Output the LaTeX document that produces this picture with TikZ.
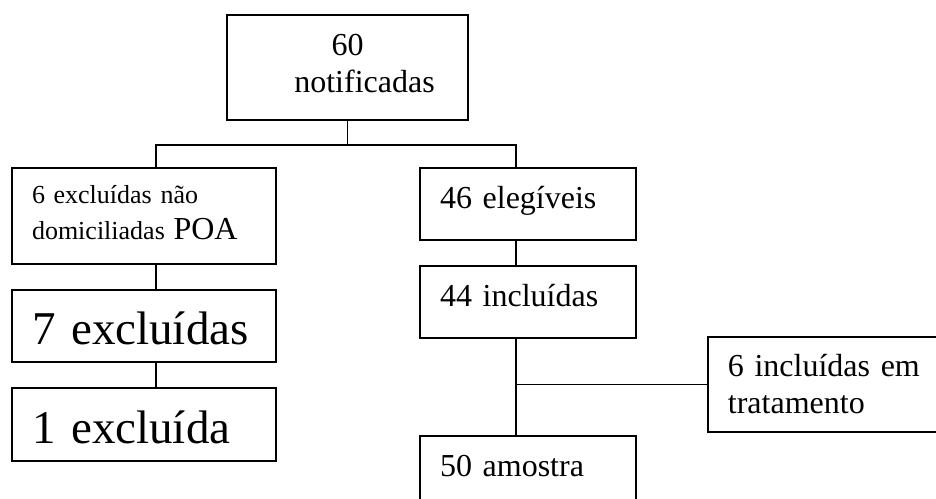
\documentclass[tikz,border=0pt]{standalone}
\usepackage{fontspec}
\setmainfont{Liberation Serif}
\usetikzlibrary{positioning}

\begin{document}
\begin{tikzpicture}[
  x=1pt, y=-1pt,
  node distance=24pt,
  box/.style={draw, line width=1.8pt, align=left, inner xsep=20pt, inner ysep=0pt, font=\fontsize{32}{37}\selectfont, text height=40pt},
  link/.style={line width=1.8pt}
]
\path[use as bounding box, clip] (0,0) rectangle (936,498);
\node[box, align=center, text width=201pt, text depth=65pt] (notif) at (347.5,67.5) {60\\\hspace*{34pt}notificadas};
\node[box, text width=224pt, text height=35pt, text depth=61pt, font=\fontsize{26}{36}\selectfont] (excl) at (144,216) {6 excluídas não\\domiciliadas {\fontsize{32}{36}\selectfont POA}};
\node[box, text width=224pt, text height=55pt, text depth=17pt, font=\fontsize{47}{54}\selectfont, below=of excl] (excl7) {7 excluídas};
\node[box, text width=224pt, text height=56pt, text depth=17pt, font=\fontsize{47}{54}\selectfont, below=of excl7] (excl1) {1 excluída};
\node[box, text width=176pt, text depth=32pt] (eleg) at (528,204) {46 elegíveis};
\node[box, text width=176pt, text height=41pt, text depth=31pt, below=of eleg] (incl) {44 incluídas};
\node[box, text width=176pt, text height=41pt, text depth=55pt, below=96pt of incl] (amostra) {50 amostra};
\node[box, text width=220pt, text height=39pt, text depth=56pt, anchor=west] (trat) at (707,384.5) {6 incluídas em\\tratamento};
\coordinate (fork) at ([yshift=-24pt]notif.south);
\coordinate (branch) at ([xshift=-12pt]amostra.north);
\draw[link] (notif.south) -- (fork);
\draw[link] ([xshift=12pt]excl.north) |- (fork) -| ([xshift=-12pt]eleg.north);
\draw[link] ([xshift=12pt]excl.south) -- ([xshift=12pt]excl7.north);
\draw[link] ([xshift=12pt]excl7.south) -- ([xshift=12pt]excl1.north);
\draw[link] ([xshift=-12pt]eleg.south) -- ([xshift=-12pt]incl.north);
\draw[link] ([xshift=-12pt]incl.south) -- (branch);
\draw[link] (trat.west) -- (trat.west -| branch);
\end{tikzpicture}
\end{document}
